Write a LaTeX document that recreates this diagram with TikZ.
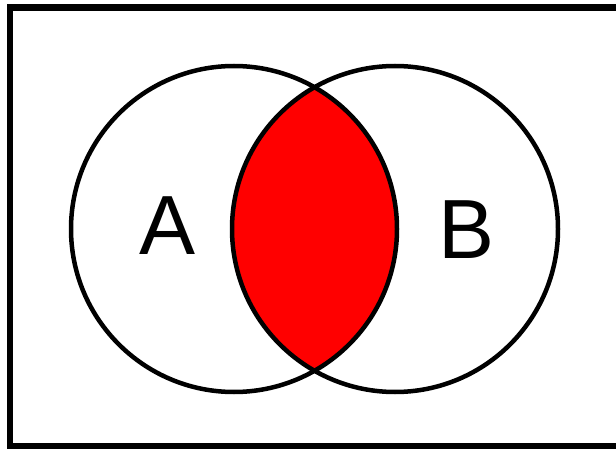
\documentclass[tikz,border=0pt]{standalone}
\usepackage{fontspec}
\setmainfont{Liberation Sans}
\usepackage{tikz}
\usetikzlibrary{positioning}

\begin{document}
\begin{tikzpicture}[x=1pt, y=-1pt,
    setline/.style={line width=4.5pt, black},
    setlabel/.style={inner sep=0pt, font=\fontsize{84}{84}\selectfont}]
    % Canvas
    \useasboundingbox (0,0) rectangle (616,449);
    \fill[white] (0,0) rectangle (616,449);

    % Frame
    \draw[line width=6.5pt] (10,7.5) rectangle (620,446);

    % Intersection of A and B
    \begin{scope}
        \clip (234,229) circle[radius=163pt];
        \fill[red] (395,229) circle[radius=163pt];
    \end{scope}

    % Sets
    \draw[setline] (234,229) circle[radius=163pt];
    \draw[setline] (395,229) circle[radius=163pt];

    % Labels
    \node[setlabel] (labA) at (168,226) {A};
    \node[setlabel] (labB) at (467,230) {B};
\end{tikzpicture}
\end{document}
